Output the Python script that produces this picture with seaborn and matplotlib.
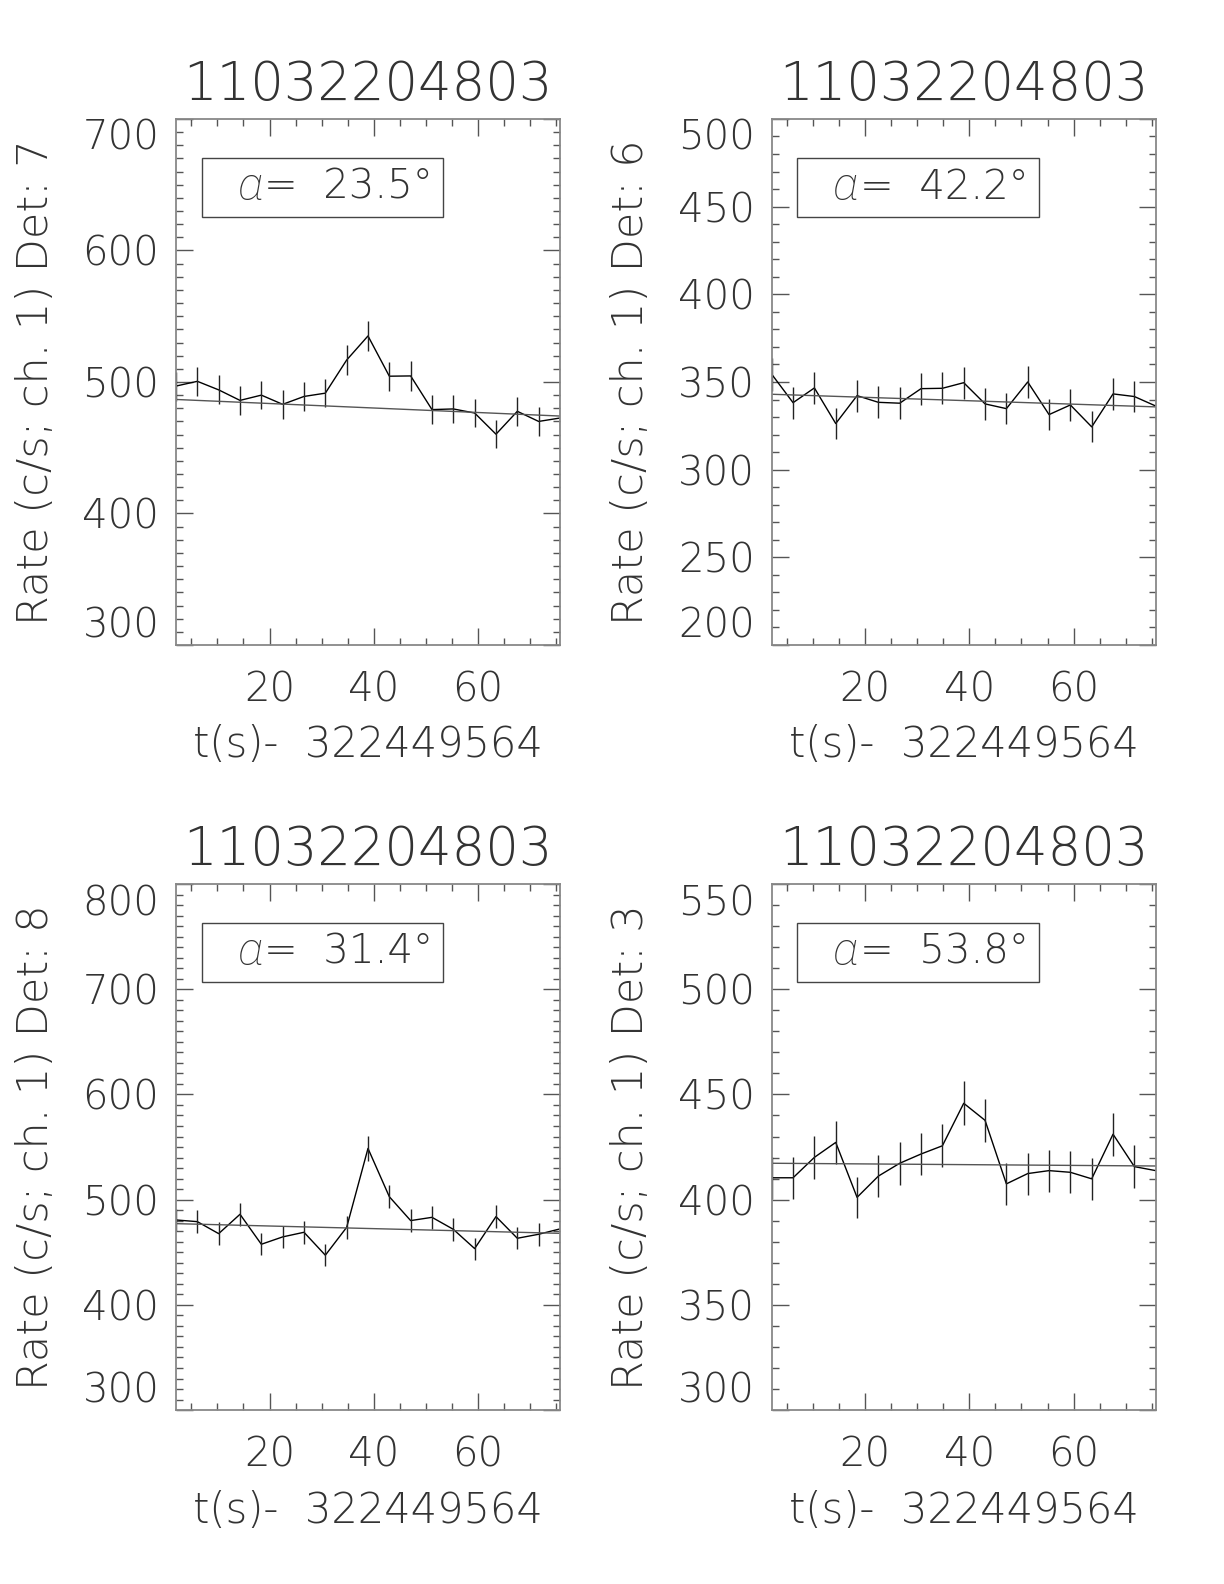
import matplotlib
matplotlib.use("Agg")
import matplotlib.pyplot as plt
import seaborn as sns
import numpy as np
from matplotlib.ticker import MultipleLocator

# time bins (s) relative to 322449564
t = [2.048, 6.144, 10.24, 14.336, 18.432, 22.528, 26.624, 30.72, 34.816, 38.912,
     43.008, 47.104, 51.2, 55.296, 59.392, 63.488, 67.584, 71.68, 75.776]

titles = ["11032204803", "11032204803", "11032204803", "11032204803"]
dets = ["7", "6", "8", "3"]
alphas = ["23.5", "42.2", "31.4", "53.8"]

rate_det7 = [496.9, 500.5, 494.0, 486.0, 490.0, 483.0, 489.0, 491.5, 516.7, 535.0,
             504.4, 504.6, 479.0, 479.5, 476.4, 460.3, 477.7, 470.0, 472.6]
err_det7 = [11.0, 11.1, 11.0, 10.9, 10.9, 10.9, 10.9, 10.9, 11.2, 11.5,
            11.1, 11.1, 10.8, 10.8, 10.8, 10.6, 10.8, 10.7, 10.7]
fit_det7 = [486.7, 474.1]

rate_det6 = [354.4, 338.2, 346.6, 326.3, 342.2, 338.4, 337.9, 346.2, 346.4, 349.6,
             337.5, 334.8, 350.0, 331.4, 336.9, 324.4, 343.2, 341.7, 336.3]
err_det6 = [9.3, 9.1, 9.2, 8.9, 9.1, 9.1, 9.1, 9.2, 9.2, 9.2,
            9.1, 9.0, 9.2, 9.0, 9.1, 8.9, 9.2, 9.1, 9.1]
fit_det6 = [343.0, 335.8]

rate_det8 = [480.7, 479.1, 467.7, 486.1, 457.6, 464.6, 469.0, 447.2, 473.7, 548.7,
             502.8, 480.1, 483.2, 471.8, 453.5, 483.9, 463.3, 467.1, 472.2]
err_det8 = [10.8, 10.8, 10.7, 10.9, 10.6, 10.6, 10.7, 10.4, 10.7, 11.6,
            11.1, 10.8, 10.9, 10.7, 10.5, 10.9, 10.6, 10.7, 10.7]
fit_det8 = [477.2, 468.0]

rate_det3 = [410.4, 410.4, 420.1, 427.2, 401.1, 411.2, 417.3, 421.7, 425.6, 445.8,
             437.7, 407.5, 412.4, 413.8, 413.0, 409.9, 431.1, 415.7, 413.8]
err_det3 = [10.0, 10.0, 10.1, 10.2, 9.9, 10.0, 10.1, 10.1, 10.2, 10.4,
            10.3, 10.0, 10.0, 10.0, 10.0, 10.0, 10.3, 10.1, 10.0]
fit_det3 = [417.3, 416.0]

rates = [rate_det7, rate_det6, rate_det8, rate_det3]
errs = [err_det7, err_det6, err_det8, err_det3]
fits = [fit_det7, fit_det6, fit_det8, fit_det3]
ylims = [(300, 700), (200, 500), (300, 800), (300, 550)]
ymajor = [100, 50, 100, 50]

sns.set_style("ticks")
plt.rcParams["font.family"] = ["DejaVu Sans"]
plt.rcParams["font.weight"] = "light"
plt.rcParams["axes.labelweight"] = "light"
plt.rcParams["axes.titleweight"] = "light"

txt = "#333333"
fig = plt.figure(figsize=(12.24, 15.84), dpi=100)

# axes boxes in figure fractions
lefts = [0.1438, 0.6305, 0.1438, 0.6305]
bottoms = [0.5928, 0.5928, 0.1098, 0.1098]
w, h = 0.3137, 0.3321

axes = []
for i in range(4):
    ax = fig.add_axes([lefts[i], bottoms[i], w, h])
    axes.append(ax)
    sns.lineplot(x=t, y=rates[i], ax=ax, color="black", lw=1.0)
    ax.errorbar(t, rates[i], yerr=errs[i], fmt="none", ecolor="#222222", elinewidth=1.0)
    sns.lineplot(x=[t[0], t[-1]], y=fits[i], ax=ax, color="#555555", lw=1.0)

    ax.set_xlim(t[0], t[-1])
    ax.set_ylim(*ylims[i])
    ax.xaxis.set_major_locator(MultipleLocator(20))
    ax.xaxis.set_minor_locator(MultipleLocator(5))
    ax.set_yticks(np.arange(ylims[i][0], ylims[i][1] + 1, ymajor[i]))
    ax.yaxis.set_minor_locator(MultipleLocator(10))
    ax.tick_params(which="both", direction="in", top=True, right=True,
                   colors="#555555", labelcolor=txt, labelsize=29)
    ax.tick_params(which="major", length=12, width=1)
    ax.tick_params(which="minor", length=5, width=1)
    ax.tick_params(axis="x", pad=18)
    ax.tick_params(axis="y", pad=12)
    for s in ax.spines.values():
        s.set_color("#888888")
        s.set_linewidth(1.3)

    ax.set_title(titles[i], fontsize=38, color=txt, pad=14)
    ax.set_xlabel("t(s)-  322449564", fontsize=30, color=txt)
    ax.xaxis.set_label_coords(0.5, -0.19)
    ax.xaxis.label.set_verticalalignment("center")
    ax.set_ylabel("Rate (c/s; ch. 1) Det: " + dets[i], fontsize=31, color=txt)
    ax.yaxis.set_label_coords(-0.367, 0.5)
    ax.yaxis.label.set_verticalalignment("center")

    # angle label: thin italic alpha, then the value
    ax.text(0.225, 0.87, "α", transform=ax.transAxes, ha="right", va="center",
            fontsize=34, color=txt, family=["Roboto", "DejaVu Sans"],
            style="italic", fontweight="light")
    ax.text(0.23, 0.87, "=  " + alphas[i] + "°", transform=ax.transAxes,
            ha="left", va="center", fontsize=29, color=txt)
    ax.add_patch(plt.Rectangle((0.067, 0.814), 0.628, 0.112, transform=ax.transAxes,
                               fill=False, ec="#444444", lw=1.0))

# end labels sit inside the axis range, as in the original
fig.canvas.draw()
for ax in axes:
    ylabs = ax.get_yticklabels()
    ylabs[-1].set_verticalalignment("top")
    ylabs[0].set_verticalalignment("bottom")

fig.savefig("out.png", dpi=100)
